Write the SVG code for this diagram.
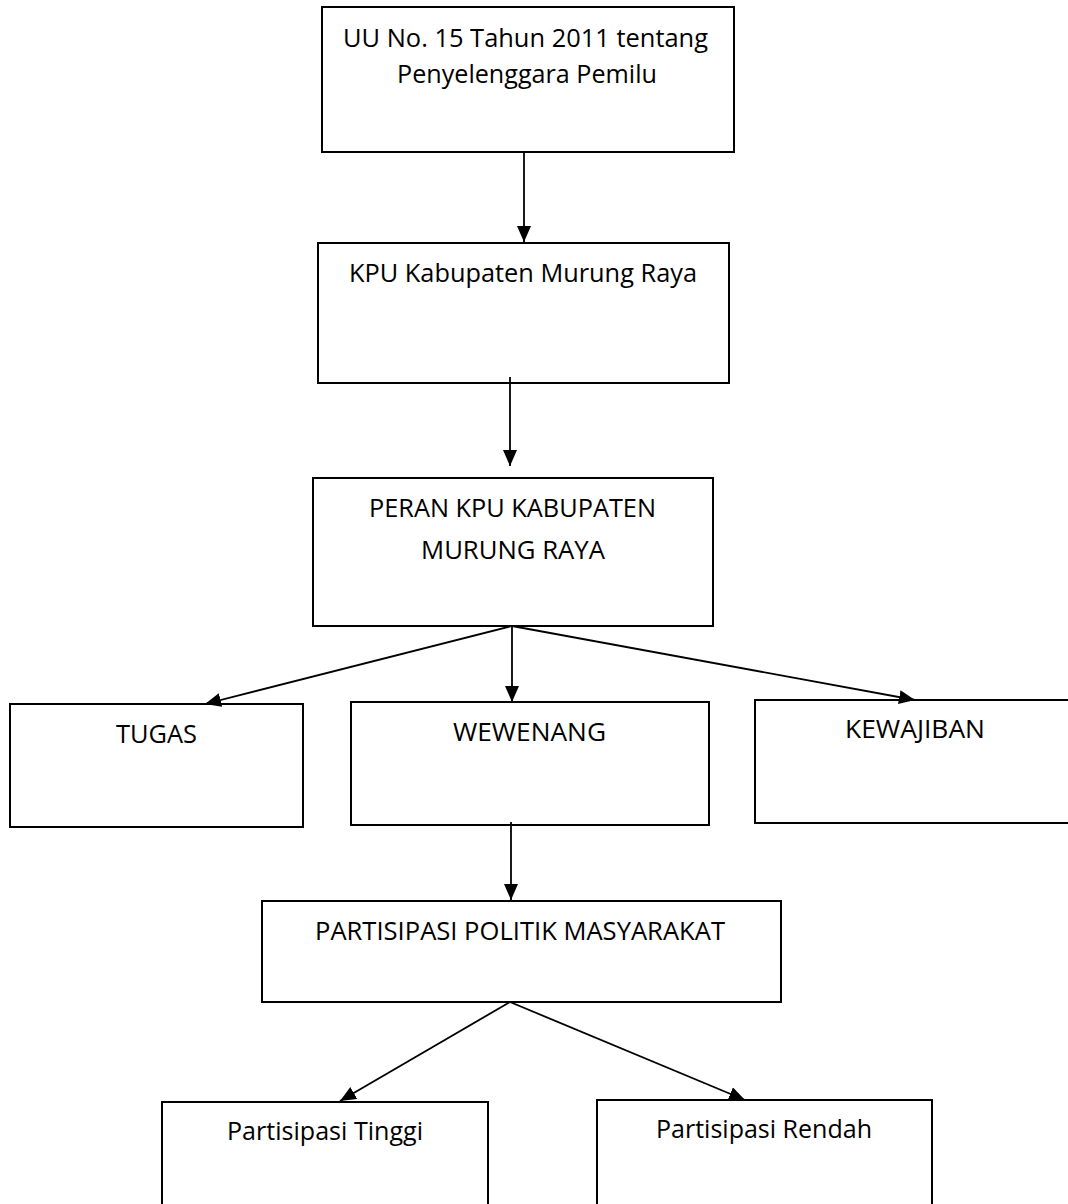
<svg xmlns="http://www.w3.org/2000/svg" width="1068" height="1204" viewBox="0 0 1068 1204">
<style>
.box{fill:#fff;stroke:#000;stroke-width:2}
.lbl{font-family:"Open Sans","Noto Sans","Liberation Sans",sans-serif;font-size:25.5px;fill:#000}
.con{stroke:#000;stroke-width:1.8;fill:none}
</style>
<defs>
<marker id="ah" markerUnits="userSpaceOnUse" markerWidth="17" markerHeight="15" refX="16" refY="7" orient="auto">
<path d="M0,0 L16,7 L0,14 z" fill="#000"/>
</marker>
</defs>
<rect width="1068" height="1204" fill="#fff"/>
<g id="n1">
<rect class="box" x="322" y="7" width="412" height="145"/>
<text class="lbl" x="343" y="47" textLength="365" lengthAdjust="spacingAndGlyphs">UU No. 15 Tahun 2011 tentang</text>
<text class="lbl" x="397" y="83" textLength="260" lengthAdjust="spacingAndGlyphs">Penyelenggara Pemilu</text>
</g>
<g id="n2">
<rect class="box" x="318" y="243" width="411" height="140"/>
<text class="lbl" x="349" y="282" textLength="348" lengthAdjust="spacingAndGlyphs">KPU Kabupaten Murung Raya</text>
</g>
<g id="n3">
<rect class="box" x="313" y="478" width="400" height="148"/>
<text class="lbl" x="369" y="517" textLength="287" lengthAdjust="spacingAndGlyphs">PERAN KPU KABUPATEN</text>
<text class="lbl" x="421" y="559" textLength="184" lengthAdjust="spacingAndGlyphs">MURUNG RAYA</text>
</g>
<g id="n4">
<rect class="box" x="10" y="704" width="293" height="123"/>
<text class="lbl" x="116" y="743" textLength="81" lengthAdjust="spacingAndGlyphs">TUGAS</text>
</g>
<g id="n5">
<rect class="box" x="351" y="702" width="358" height="123"/>
<text class="lbl" x="453" y="741" textLength="153" lengthAdjust="spacingAndGlyphs">WEWENANG</text>
</g>
<g id="n6">
<rect class="box" x="755" y="700" width="320" height="123"/>
<text class="lbl" x="845" y="738" textLength="140" lengthAdjust="spacingAndGlyphs">KEWAJIBAN</text>
</g>
<g id="n7">
<rect class="box" x="262" y="901" width="519" height="101"/>
<text class="lbl" x="315" y="940" textLength="410" lengthAdjust="spacingAndGlyphs">PARTISIPASI POLITIK MASYARAKAT</text>
</g>
<g id="n8">
<rect class="box" x="162" y="1102" width="326" height="110"/>
<text class="lbl" x="227" y="1140" textLength="196" lengthAdjust="spacingAndGlyphs">Partisipasi Tinggi</text>
</g>
<g id="n9">
<rect class="box" x="597" y="1100" width="335" height="112"/>
<text class="lbl" x="656" y="1138" textLength="216" lengthAdjust="spacingAndGlyphs">Partisipasi Rendah</text>
</g>
<g id="connectors">
<line class="con" x1="524" y1="152" x2="524" y2="242" marker-end="url(#ah)"/>
<line class="con" x1="510" y1="377" x2="510" y2="466" marker-end="url(#ah)"/>
<line class="con" x1="512" y1="626" x2="205" y2="704" marker-end="url(#ah)"/>
<line class="con" x1="512" y1="626" x2="512" y2="702" marker-end="url(#ah)"/>
<line class="con" x1="512" y1="626" x2="915" y2="700" marker-end="url(#ah)"/>
<line class="con" x1="511" y1="822" x2="511" y2="900" marker-end="url(#ah)"/>
<line class="con" x1="510" y1="1002" x2="340" y2="1101" marker-end="url(#ah)"/>
<line class="con" x1="510" y1="1002" x2="745" y2="1100" marker-end="url(#ah)"/>
</g>
</svg>
